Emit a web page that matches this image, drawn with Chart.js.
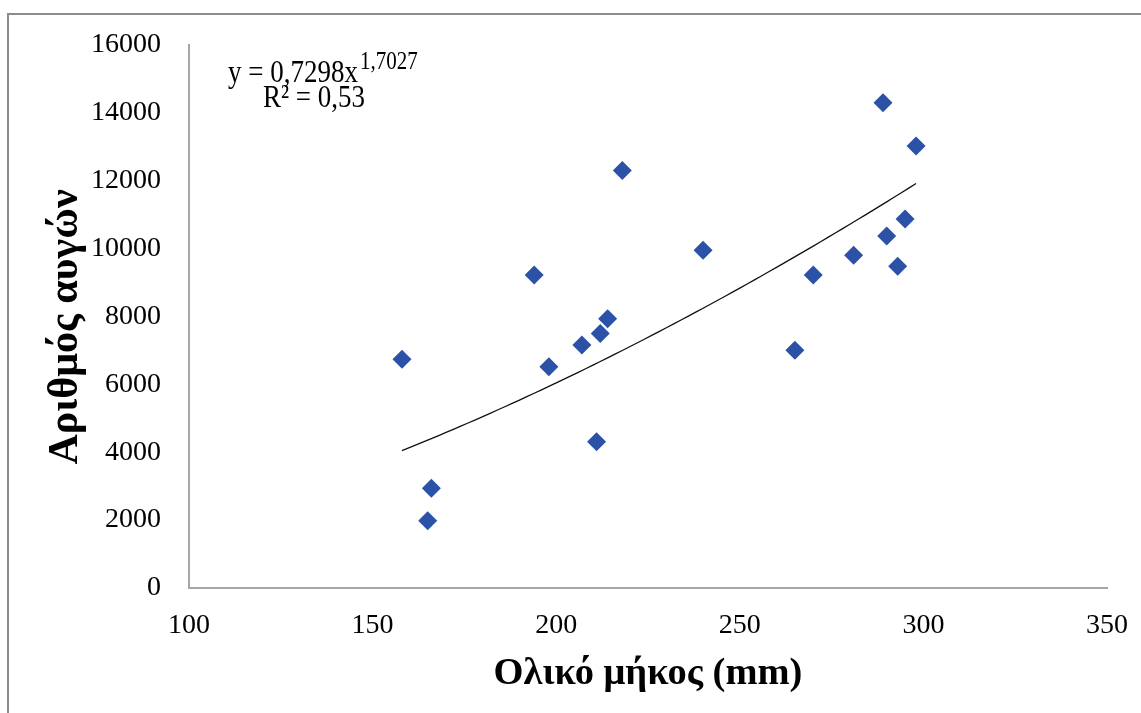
<!DOCTYPE html>
<html>
<head>
<meta charset="utf-8">
<script src="https://cdn.jsdelivr.net/npm/chart.js@4"></script>
<style>
  body { margin: 0; background: #fff; }
  canvas { display: block; }
</style>
</head>
<body>
<canvas id="eggsChart" width="1141" height="713"></canvas>
<script>
// Data
const lengthMm = [158, 166, 165, 194, 198, 207, 212, 214, 211, 218, 240, 265, 270, 281, 289, 290, 293, 295, 298];
const eggCount = [6740, 2940, 1980, 9220, 6520, 7160, 7500, 7930, 4310, 12300, 9950, 7000, 9220, 9800, 14290, 10370, 9480, 10870, 13020];
const yTicks = [0, 2000, 4000, 6000, 8000, 10000, 12000, 14000, 16000];
const xTicks = [100, 150, 200, 250, 300, 350];

// Power trendline shown on the chart: y = 0,7298 x^1,7027
const trendA = 0.7298;
const trendB = 1.7027;
const trendLabel = 'y = 0,7298x';
const trendExp = '1,7027';
const r2Label = 'R² = 0,53';

const points = lengthMm.map((x, i) => ({ x: x, y: eggCount[i] }));

const xMin = Math.min(...lengthMm);
const xMax = Math.max(...lengthMm);
const trendPoints = [];
for (let x = xMin; x <= xMax; x += 2) {
    trendPoints.push({ x: x, y: trendA * Math.pow(x, trendB) });
}
trendPoints.push({ x: xMax, y: trendA * Math.pow(xMax, trendB) });

const serif = "'Liberation Serif', 'Times New Roman', serif";

// outer frame and trend equation
const extras = {
    id: 'extras',
    beforeDraw(chart) {
        const ctx = chart.ctx;
        ctx.save();
        ctx.strokeStyle = '#8c8c8c';
        ctx.lineWidth = 2;
        ctx.strokeRect(8, 14, 1160, 740);
        ctx.restore();
    },
    afterDraw(chart) {
        const ctx = chart.ctx;
        ctx.save();
        ctx.fillStyle = '#000';
        ctx.textBaseline = 'alphabetic';
        // the equation text is a little taller than wide in the picture
        ctx.translate(228, 82);
        ctx.scale(1, 1.18);
        ctx.font = '27px ' + serif;
        ctx.fillText(trendLabel, 0, 0);
        const w = ctx.measureText(trendLabel).width;
        ctx.font = '21px ' + serif;
        ctx.fillText(trendExp, w + 2, -11);
        ctx.font = '27px ' + serif;
        ctx.fillText(r2Label, 35, 21);
        ctx.restore();
    }
};

const chart = new Chart(document.getElementById('eggsChart'), {
    type: 'scatter',
    data: {
        datasets: [{
            label: 'Αριθμός αυγών',
            data: points,
            pointStyle: 'rectRot',
            pointRadius: 9.5,
            backgroundColor: '#2B52A6',
            borderColor: '#2B52A6',
            borderWidth: 0,
            order: 1
        }, {
            label: 'trend',
            data: trendPoints,
            showLine: true,
            borderColor: '#111',
            borderWidth: 1.3,
            pointRadius: 0,
            tension: 0,
            order: 2
        }]
    },
    options: {
        responsive: false,
        animation: false,
        layout: { padding: { top: 42, right: 34, left: 0, bottom: 0 } },
        plugins: {
            legend: { display: false },
            tooltip: { enabled: false }
        },
        scales: {
            x: {
                type: 'linear',
                min: 100,
                max: 350,
                afterBuildTicks: s => { s.ticks = xTicks.map(v => ({ value: v })); },
                afterFit: s => {
                    s.height = 125;
                    s.paddingLeft = 0;
                    s.paddingRight = 0;
                },
                grid: { display: false, drawTicks: false },
                border: { display: true, color: '#a6a6a6', width: 2 },
                ticks: { color: '#000', padding: 21, font: { family: serif, size: 28 } },
                title: {
                    display: true,
                    text: 'Ολικό μήκος (mm)',
                    color: '#000',
                    padding: { top: 0, bottom: 16 },
                    font: { family: serif, size: 38.5, weight: 'bold' }
                }
            },
            y: {
                min: 0,
                max: 16000,
                afterBuildTicks: s => { s.ticks = yTicks.map(v => ({ value: v })); },
                afterFit: s => { s.width = 189; },
                grid: { display: false, drawTicks: false },
                border: { display: true, color: '#a6a6a6', width: 2 },
                ticks: {
                    color: '#000',
                    padding: 28,
                    font: { family: serif, size: 28 },
                    callback: v => String(v)
                },
                title: {
                    display: true,
                    // two trailing spaces nudge the title down to where it sits in the picture
                    text: 'Αριθμός αυγών  ',
                    color: '#000',
                    padding: { top: 41, bottom: 0 },
                    font: { family: serif, size: 42, weight: 'bold' }
                }
            }
        }
    },
    plugins: [extras]
});
</script>
</body>
</html>
